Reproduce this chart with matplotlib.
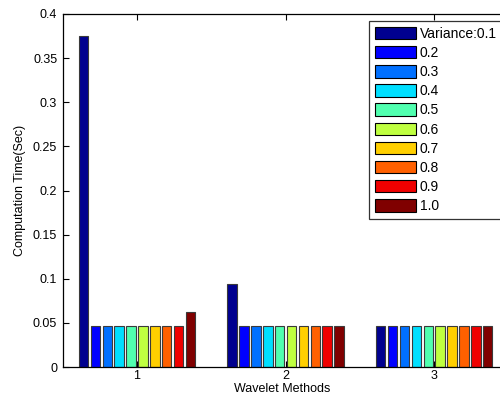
import numpy as np
import matplotlib
matplotlib.use("Agg")
import matplotlib.pyplot as plt

plt.rcParams['font.family'] = ['Liberation Sans', 'DejaVu Sans']

# data
methods = [1, 2, 3]
variance_labels = ['Variance:0.1', '0.2', '0.3', '0.4', '0.5',
                   '0.6', '0.7', '0.8', '0.9', '1.0']
# one row per wavelet method, one column per variance level
times_m1 = [0.375, 0.0469, 0.0469, 0.0469, 0.0469, 0.0469, 0.0469, 0.0469, 0.0469, 0.0625]
times_m2 = [0.0938, 0.0469, 0.0469, 0.0469, 0.0469, 0.0469, 0.0469, 0.0469, 0.0469, 0.0469]
times_m3 = [0.0469, 0.0469, 0.0469, 0.0469, 0.0469, 0.0469, 0.0469, 0.0469, 0.0469, 0.0469]

yticks = [0, 0.05, 0.1, 0.15, 0.2, 0.25, 0.3, 0.35, 0.4]
ytick_labels = ['0', '0.05', '0.1', '0.15', '0.2', '0.25', '0.3', '0.35', '0.4']

# MATLAB jet(64) entries picked for 10 series
colors = [(0, 0, 0.5625), (0, 0, 1), (0, 0.4375, 1), (0, 0.875, 1),
          (0.3125, 1, 0.6875), (0.75, 1, 0.25), (1, 0.8125, 0),
          (1, 0.375, 0), (0.9375, 0, 0), (0.5, 0, 0)]

data = np.array([times_m1, times_m2, times_m3])
n_series = data.shape[1]
x = np.array(methods, dtype=float)
slot = 0.8 / n_series
width = slot * 0.8

fig = plt.figure(figsize=(5.0, 4.03), dpi=100)
# right edge of the axes runs past the figure, as in the original
ax = fig.add_axes([62.7 / 500, 36 / 403, 445.8 / 500, 353 / 403])

for i in range(n_series):
    offset = (i - (n_series - 1) / 2) * slot
    ax.bar(x + offset, data[:, i], width=width, color=colors[i],
           edgecolor='#3a3a3a', linewidth=0.8, label=variance_labels[i])

ax.set_xlim(0.5, 3.5)
ax.set_ylim(0, 0.4)
ax.set_xticks(methods)
ax.set_xticklabels([str(m) for m in methods])
ax.set_yticks(yticks)
ax.set_yticklabels(ytick_labels)
ax.tick_params(direction='in', length=4, width=0.8, labelsize=9,
               top=True, right=False)
ax.tick_params(axis='y', pad=4)
ax.tick_params(axis='x', pad=2.5)
ax.spines['right'].set_visible(False)
for s in ax.spines.values():
    s.set_linewidth(0.9)

ax.set_xlabel('Wavelet Methods', fontsize=9)
ax.set_ylabel('Computation Time(Sec)', fontsize=9)
ax.xaxis.set_label_coords(0.492, -0.044)
ax.yaxis.set_label_coords(-0.082, 0.5)

leg = ax.legend(loc='upper left', bbox_to_anchor=(369.3 / 500, 1 - 21.3 / 403),
                bbox_transform=fig.transFigure, fontsize=10, frameon=True,
                fancybox=False, borderaxespad=0, borderpad=0.4,
                handlelength=2.95, handleheight=1.0, handletextpad=0.28,
                labelspacing=0.37)
leg.get_frame().set_edgecolor('black')
leg.get_frame().set_linewidth(0.9)
for h in leg.legend_handles:
    h.set_edgecolor('black')

fig.savefig('out.png', dpi=100)
